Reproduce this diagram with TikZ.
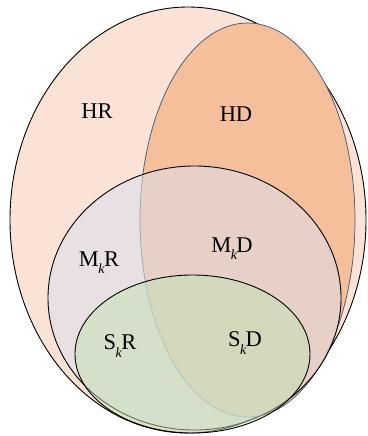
\documentclass[tikz,border=0pt]{standalone}
\usepackage{fontspec}
\setmainfont{Liberation Serif}
\newcommand{\subk}{\kern-0.5pt\raisebox{-0.32em}{\fontsize{14}{14}\selectfont\itshape k}\kern-0.5pt}
\begin{document}
\begin{tikzpicture}[x=1pt,y=-1pt,
  lbl/.style={font=\fontsize{22.5}{25}\selectfont, inner sep=0pt},
  blackedge/.style={draw=black, line width=0.9pt}]
\definecolor{outerfill}{RGB}{250,227,214}
\definecolor{hdfill}{RGB}{245,191,155}
\definecolor{hdedge}{RGB}{68,84,106}
\definecolor{mfill}{RGB}{219,223,236}
\definecolor{sfill}{RGB}{195,225,180}
\useasboundingbox (0,0) rectangle (367,436);
% outer H
\filldraw[fill=outerfill, blackedge] (188,220) ellipse [x radius=178, y radius=213];
% HD
\filldraw[fill=hdfill, draw=hdedge, line width=0.7pt] (247.5,220) ellipse [x radius=107.5, y radius=197];
% M
\filldraw[fill=mfill, fill opacity=0.55, blackedge] (194.5,298) ellipse [x radius=146.5, y radius=132];
% S
\filldraw[fill=sfill, fill opacity=0.5, blackedge] (192.5,354) ellipse [x radius=117.5, y radius=79];
% labels
\node[lbl] (hr) at (97,111) {HR};
\node[lbl] (hd) at (236,114) {HD};
\node[lbl] (mr) at (99,263) {M\subk R};
\node[lbl] (md) at (232,249) {M\subk D};
\node[lbl] (sr) at (120,346) {S\subk R};
\node[lbl] (sd) at (245,343) {S\subk D};
\end{tikzpicture}
\end{document}
